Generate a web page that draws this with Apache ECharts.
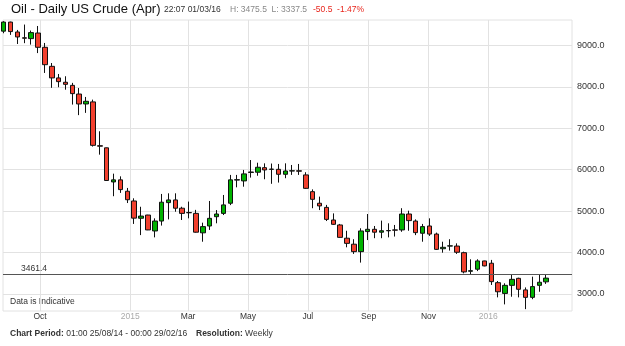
<!DOCTYPE html>
<html><head><meta charset="utf-8">
<script src="https://cdn.jsdelivr.net/npm/echarts@6/dist/echarts.min.js"></script>
<style>html,body{margin:0;padding:0;background:#fff}#c{width:625px;height:346px}</style>
</head><body><div id="c"></div>
<script>
// Weekly candles (week start dates)
const weeks = [
 '2014-08-25','2014-09-01','2014-09-08','2014-09-15','2014-09-22','2014-09-29','2014-10-06','2014-10-13','2014-10-20','2014-10-27',
 '2014-11-03','2014-11-10','2014-11-17','2014-11-24','2014-12-01','2014-12-08','2014-12-15','2014-12-22','2014-12-29','2015-01-05',
 '2015-01-12','2015-01-19','2015-01-26','2015-02-02','2015-02-09','2015-02-16','2015-02-23','2015-03-02','2015-03-09','2015-03-16',
 '2015-03-23','2015-03-30','2015-04-06','2015-04-13','2015-04-20','2015-04-27','2015-05-04','2015-05-11','2015-05-18','2015-05-25',
 '2015-06-01','2015-06-08','2015-06-15','2015-06-22','2015-06-29','2015-07-06','2015-07-13','2015-07-20','2015-07-27','2015-08-03',
 '2015-08-10','2015-08-17','2015-08-24','2015-08-31','2015-09-07','2015-09-14','2015-09-21','2015-09-28','2015-10-05','2015-10-12',
 '2015-10-19','2015-10-26','2015-11-02','2015-11-09','2015-11-16','2015-11-23','2015-11-30','2015-12-07','2015-12-14','2015-12-21',
 '2015-12-28','2016-01-04','2016-01-11','2016-01-18','2016-01-25','2016-02-01','2016-02-08','2016-02-15','2016-02-22','2016-02-29'
];
const opens = [
 9350,9570,9330,9190,9170,9305,8960,8500,8220,8115,
 8040,7830,7590,7640,6580,6530,5705,5755,5480,5245,
 4827,4905,4520,4760,5205,5270,5070,4965,4945,4475,
 4640,4865,4945,5190,5750,5730,5935,5940,6050,6010,
 6010,5890,5970,5975,5875,5470,5190,5090,4785,4665,
 4345,4200,4020,4505,4560,4490,4525,4545,4545,4930,
 4760,4465,4640,4445,4090,4155,4155,3995,3545,3595,
 3795,3740,3270,3010,3205,3375,3095,2915,3205,3290
];
const highs = [
 9590,9580,9380,9510,9365,9475,9065,8580,8315,8260,
 8100,7975,7760,7695,6930,6535,5905,5840,5560,5310,
 5105,4910,4825,5415,5430,5430,5105,5230,5030,4720,
 5245,5025,5390,5875,5875,5995,6235,6170,6155,6150,
 6140,6155,6115,6140,5940,5525,5350,5150,4945,4690,
 4525,4320,4585,4930,4640,4770,4705,4665,5070,5010,
 4800,4690,4825,4480,4260,4320,4220,4020,3835,3835,
 3800,3820,3310,3255,3455,3390,3155,3415,3455,3460
];
const lows = [
 9300,9260,9040,9060,9025,8820,8340,7980,7995,7935,
 7575,7320,7375,6560,6365,5730,5360,5440,5195,4690,
 4420,4540,4365,4650,4800,4985,4785,4825,4480,4260,
 4545,4705,4905,5145,5575,5590,5810,5855,5770,5660,
 5690,5795,5875,5875,5535,5070,5025,4760,4665,4355,
 4125,3965,3755,4300,4345,4345,4365,4385,4500,4525,
 4420,4260,4400,4060,3995,4045,3965,3495,3455,3550,
 3665,3215,2915,2745,2930,2915,2630,2870,3050,3240
];
const closes = [
 9570,9340,9210,9180,9315,8960,8540,8220,8130,8065,
 7840,7590,7655,6590,6570,5740,5755,5520,5275,4830,
 4880,4545,4760,5215,5270,5070,4945,4960,4490,4625,
 4825,4930,5150,5755,5760,5900,5945,6060,5995,6015,
 5890,5970,5975,5965,5550,5285,5125,4800,4680,4365,
 4220,4020,4520,4560,4490,4525,4530,4540,4930,4770,
 4480,4625,4445,4075,4125,4160,4005,3530,3560,3795,
 3675,3295,3050,3205,3350,3110,2915,3175,3280,3380
];
const xTickDates = ['2014-10-01','2015-01-01','2015-03-01','2015-05-01','2015-07-01','2015-09-01','2015-11-01','2016-01-01'];
const monthNames = ['Jan','Feb','Mar','Apr','May','Jun','Jul','Aug','Sep','Oct','Nov','Dec'];
const yTicks = [3000,4000,5000,6000,7000,8000,9000];
const lastPrice = 3461.4;

const toT = s => { const p = s.split('-').map(Number); return Date.UTC(p[0], p[1]-1, p[2]); };
const candles = weeks.map((w,i) => [toT(w), opens[i], closes[i], lows[i], highs[i]]);
const xTicks = xTickDates.map(toT);

const FONT = '"Liberation Sans", Arial, sans-serif';
const chart = echarts.init(document.getElementById('c'), null, {renderer:'canvas'});
chart.setOption({
  animation: false,
  backgroundColor: '#fff',
  grid: {left:3, right:53, top:20, bottom:35, show:true, borderColor:'#e2e2e2', borderWidth:1},
  xAxis: {
    type:'value',
    min: Date.UTC(2014,7,24,7), max: Date.UTC(2016,2,26,7),
    axisLine:{show:false}, axisTick:{show:false, customValues:xTicks},
    splitLine:{show:true, lineStyle:{color:'#e2e2e2', width:1}},
    axisLabel:{
      customValues:xTicks, margin:1, fontSize:8.5, color:'#333', fontFamily:FONT,
      formatter: v => { const d = new Date(v); const m = d.getUTCMonth();
        return m === 0 ? '{y|' + d.getUTCFullYear() + '}' : monthNames[m]; },
      rich:{ y:{color:'#aaa', fontSize:8.5, fontFamily:FONT} }
    }
  },
  yAxis: {
    type:'value', position:'right', min:2585, max:9620,
    axisLine:{show:false}, axisTick:{show:false, customValues:yTicks},
    splitLine:{show:true, lineStyle:{color:'#e2e2e2', width:1}},
    axisLabel:{customValues:yTicks, margin:5, fontSize:9, color:'#333', fontFamily:FONT,
      formatter: v => v.toFixed(1)}
  },
  series: [{
    type:'candlestick',
    data: candles,
    encode:{x:0, y:[1,2,3,4]},
    barWidth:5,
    itemStyle:{color:'#00b300', color0:'#f2402e', borderColor:'#111', borderColor0:'#111', borderWidth:1},
    markLine:{
      silent:true, symbol:'none', animation:false,
      lineStyle:{color:'#555', width:1, type:'solid'},
      label:{position:'insideStartTop', distance:[18,2], formatter: String(lastPrice), fontSize:8.5, color:'#333', fontFamily:FONT},
      data:[{yAxis:lastPrice}]
    }
  }],
  graphic: [
    {type:'text', x:11, y:9, style:{text:'Oil - Daily US Crude (Apr)', font:'13px '+FONT, fill:'#111', textVerticalAlign:'middle'}},
    {type:'text', x:164, y:10, style:{text:'22:07 01/03/16', font:'8.5px '+FONT, fill:'#333', textVerticalAlign:'middle'}},
    {type:'text', x:230, y:10, style:{text:'H: 3475.5  L: 3337.5', font:'8.5px '+FONT, fill:'#888', textVerticalAlign:'middle'}},
    {type:'text', x:313, y:10, style:{text:'-50.5  -1.47%', font:'8.5px '+FONT, fill:'#e8251c', textVerticalAlign:'middle'}},
    {type:'text', x:10, y:302, style:{text:'Data is Indicative', font:'8.5px '+FONT, fill:'#333', textVerticalAlign:'middle'}},
    {type:'text', x:10, y:334, style:{text:'{b|Chart Period:} 01:00 25/08/14 - 00:00 29/02/16', font:'8.5px '+FONT, fill:'#333', textVerticalAlign:'middle',
      rich:{b:{fontWeight:'bold', fontSize:8.5, fontFamily:FONT, fill:'#333'}}}},
    {type:'text', x:196, y:334, style:{text:'{b|Resolution:} Weekly', font:'8.5px '+FONT, fill:'#333', textVerticalAlign:'middle',
      rich:{b:{fontWeight:'bold', fontSize:8.5, fontFamily:FONT, fill:'#333'}}}}
  ]
});
</script></body></html>
